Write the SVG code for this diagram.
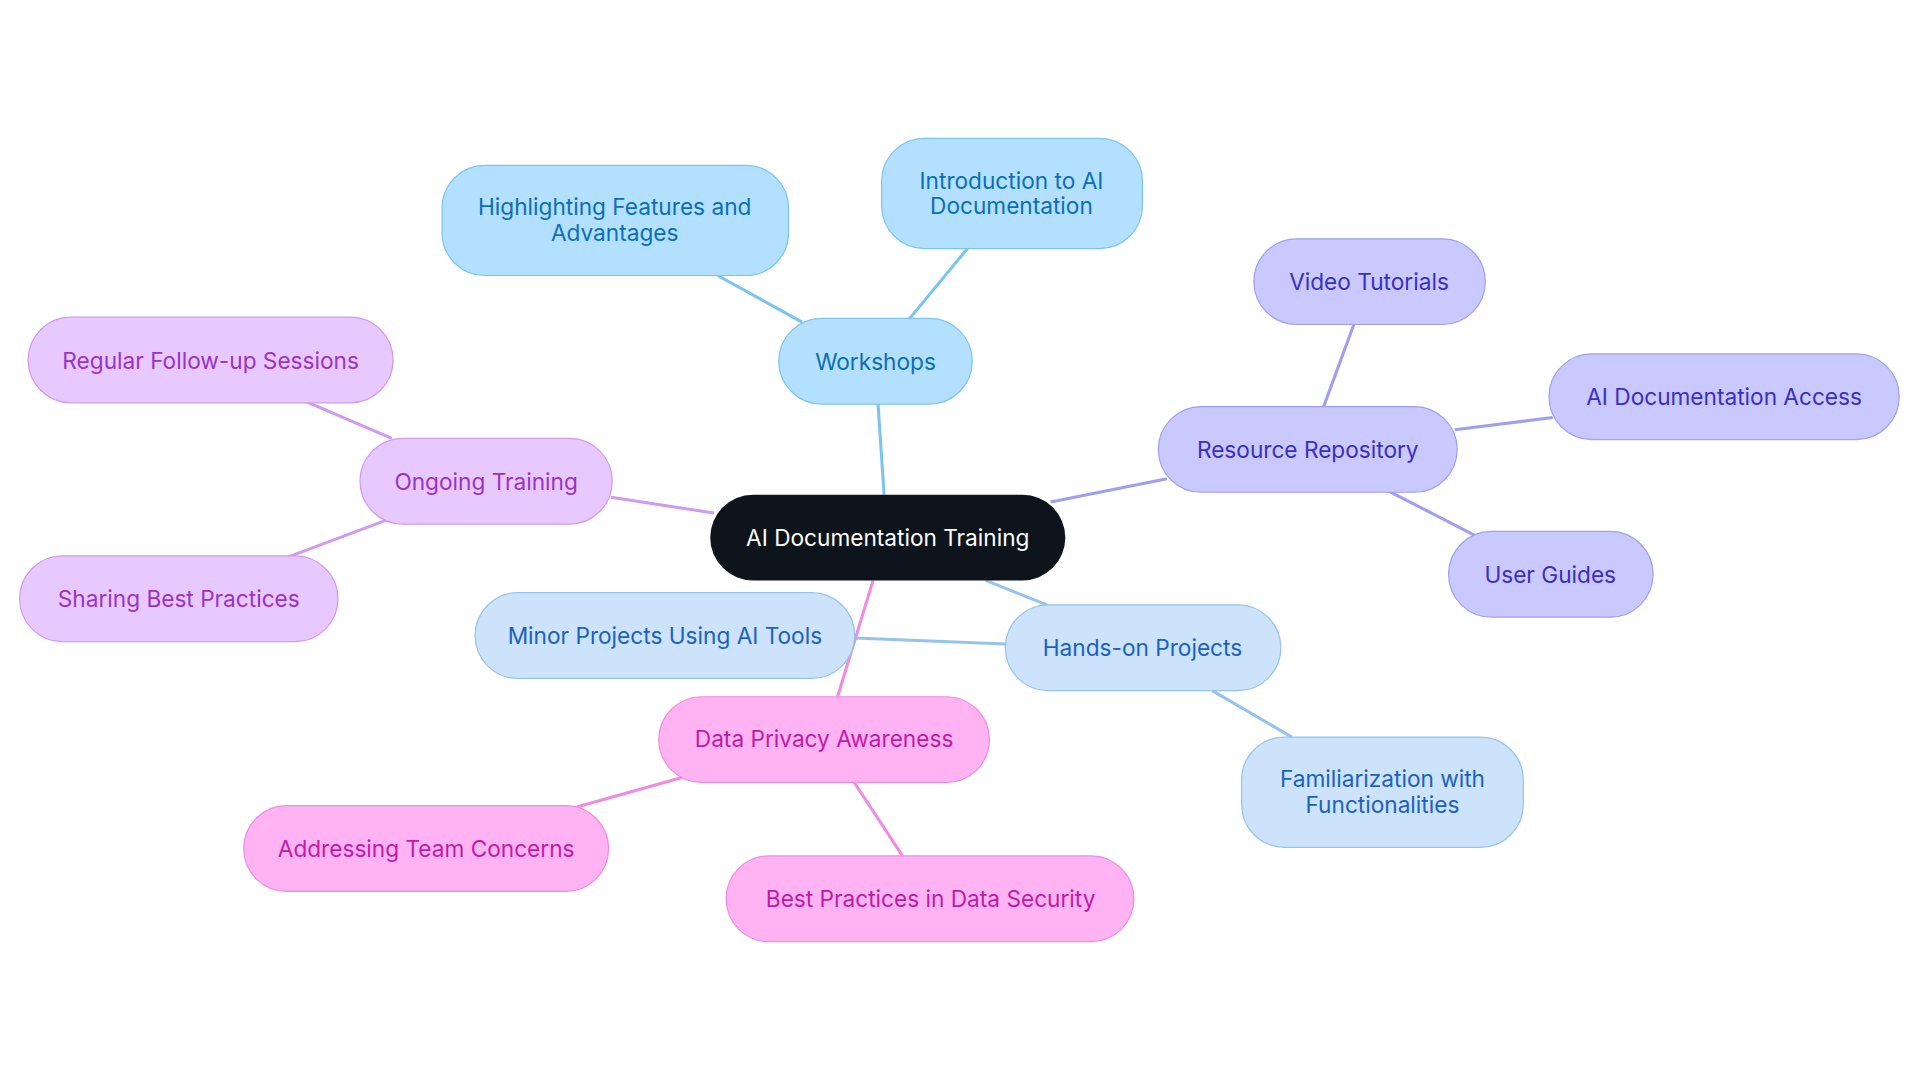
<svg xmlns="http://www.w3.org/2000/svg" width="1920" height="1083" viewBox="0 0 1920 1083">
<style>
text{font-family:Inter,"Noto Sans",sans-serif;font-size:18.5px;text-anchor:middle;dominant-baseline:central}
.b rect{fill:#b3e0ff;stroke:#7cc4f0}.b text{fill:#0b6fb8}
.p rect{fill:#c9c9ff;stroke:#9f9ff0}.p text{fill:#3a2fc4}
.v rect{fill:#e8c9ff;stroke:#cf9af0}.v text{fill:#9b32c8}
.l rect{fill:#cce3fb;stroke:#96c2ef}.l text{fill:#1b62c0}
.m rect{fill:#ffb3f2;stroke:#f08be0}.m text{fill:#c21aa8}
#edges line{stroke-width:2.5}
</style>
<rect width="1920" height="1083" fill="#fff"/>
<g transform="scale(1.2245)">
<g id="edges">
<line x1="722" y1="404" x2="717" y2="329" stroke="#7cc4f0"/>
<line x1="743" y1="260" x2="790" y2="203" stroke="#7cc4f0"/>
<line x1="655" y1="263" x2="586" y2="225" stroke="#7cc4f0"/>
<line x1="858" y1="410" x2="953" y2="391" stroke="#9f9ff0"/>
<line x1="1081" y1="332" x2="1106" y2="264" stroke="#9f9ff0"/>
<line x1="1188" y1="351" x2="1268" y2="341" stroke="#9f9ff0"/>
<line x1="1134" y1="401" x2="1204" y2="437" stroke="#9f9ff0"/>
<line x1="583" y1="419" x2="499" y2="406" stroke="#cf9af0"/>
<line x1="320" y1="358" x2="250" y2="328" stroke="#cf9af0"/>
<line x1="315" y1="425" x2="235" y2="455" stroke="#cf9af0"/>
<line x1="805" y1="474" x2="855" y2="494" stroke="#96c2ef"/>
<line x1="821" y1="526" x2="698" y2="521" stroke="#96c2ef"/>
<line x1="990" y1="564" x2="1055" y2="602" stroke="#96c2ef"/>
<line x1="713" y1="474" x2="684" y2="569" stroke="#f08be0"/>
<line x1="557" y1="635" x2="471" y2="659" stroke="#f08be0"/>
<line x1="697" y1="638" x2="737" y2="699" stroke="#f08be0"/>
</g>
<g id="center"><rect x="580" y="404" width="290" height="70" rx="35" fill="#0d141c"/><text x="725" y="439" fill="#fff">AI Documentation Training</text></g>
<g id="workshops" class="b"><rect x="636" y="260" width="158" height="70" rx="35"/><text x="715" y="295">Workshops</text></g>
<g id="intro" class="b"><rect x="720" y="113" width="213" height="90" rx="35"/><text x="826" y="147">Introduction to AI</text><text x="826" y="168">Documentation</text></g>
<g id="highlight" class="b"><rect x="361" y="135" width="283" height="90" rx="35"/><text x="502" y="169">Highlighting Features and</text><text x="502" y="190">Advantages</text></g>
<g id="repo" class="p"><rect x="946" y="332" width="244" height="70" rx="35"/><text x="1068" y="367">Resource Repository</text></g>
<g id="video" class="p"><rect x="1024" y="195" width="189" height="70" rx="35"/><text x="1118" y="230">Video Tutorials</text></g>
<g id="access" class="p"><rect x="1265" y="289" width="286" height="70" rx="35"/><text x="1408" y="324">AI Documentation Access</text></g>
<g id="guides" class="p"><rect x="1183" y="434" width="167" height="70" rx="35"/><text x="1266" y="469">User Guides</text></g>
<g id="ongoing" class="v"><rect x="294" y="358" width="206" height="70" rx="35"/><text x="397" y="393">Ongoing Training</text></g>
<g id="regular" class="v"><rect x="23" y="259" width="298" height="70" rx="35"/><text x="172" y="294">Regular Follow-up Sessions</text></g>
<g id="sharing" class="v"><rect x="16" y="454" width="260" height="70" rx="35"/><text x="146" y="489">Sharing Best Practices</text></g>
<g id="hands" class="l"><rect x="821" y="494" width="225" height="70" rx="35"/><text x="933" y="529">Hands-on Projects</text></g>
<g id="minor" class="l"><rect x="388" y="484" width="310" height="70" rx="35"/><text x="543" y="519">Minor Projects Using AI Tools</text></g>
<g id="familiar" class="l"><rect x="1014" y="602" width="230" height="90" rx="35"/><text x="1129" y="636">Familiarization with</text><text x="1129" y="657">Functionalities</text></g>
<g id="privacy" class="m"><rect x="538" y="569" width="270" height="70" rx="35"/><text x="673" y="603">Data Privacy Awareness</text></g>
<g id="concerns" class="m"><rect x="199" y="658" width="298" height="70" rx="35"/><text x="348" y="693">Addressing Team Concerns</text></g>
<g id="security" class="m"><rect x="593" y="699" width="333" height="70" rx="35"/><text x="760" y="734">Best Practices in Data Security</text></g>
</g>
</svg>
